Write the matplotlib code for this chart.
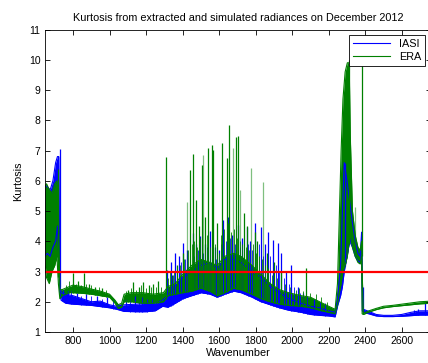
import numpy as np
import matplotlib
matplotlib.use("Agg")
import matplotlib.pyplot as plt

plt.rcParams['font.family'] = ['Liberation Sans', 'DejaVu Sans']

# IASI band (wavenumber, lower edge, upper edge)
iasi_wn = [645, 660, 675, 690, 705, 715, 722, 728, 735, 760, 800, 850, 900, 950,
           1000, 1040, 1080, 1150, 1200, 1250, 1290, 1320, 1360, 1400, 1450, 1500,
           1550, 1590, 1630, 1680, 1720, 1780, 1830, 1880, 1930, 1980, 2050, 2100,
           2150, 2200, 2235, 2250, 2265, 2275, 2285, 2300, 2315, 2330, 2345, 2360,
           2372, 2380, 2384, 2390, 2420, 2460, 2500, 2550, 2600, 2650, 2700, 2760]
iasi_lo = [3.5, 3.6, 3.5, 3.8, 4.0, 4.5, 3.5, 2.3, 2.05, 1.95, 1.92, 1.9, 1.88, 1.84,
           1.8, 1.75, 1.68, 1.67, 1.67, 1.7, 1.85, 1.82, 1.95, 2.1, 2.2, 2.3,
           2.25, 2.15, 2.25, 2.35, 2.3, 2.15, 2.0, 1.9, 1.8, 1.72, 1.65, 1.58,
           1.55, 1.53, 1.5, 1.9, 2.2, 2.5, 3.0, 3.5, 4.0, 3.8, 3.5, 3.35,
           3.3, 3.6, 1.7, 1.65, 1.6, 1.53, 1.51, 1.51, 1.52, 1.54, 1.56, 1.56]
iasi_hi = [5.85, 5.8, 5.7, 6.0, 6.6, 6.8, 6.8, 2.6, 2.3, 2.25, 2.2, 2.1, 2.0, 2.02,
           1.9, 1.85, 1.9, 1.92, 1.95, 1.95, 2.05, 2.2, 2.5, 2.8, 3.0, 3.2,
           3.3, 3.1, 3.4, 3.4, 3.3, 3.0, 2.8, 2.5, 2.3, 2.1, 1.95, 1.85,
           1.8, 1.7, 1.65, 2.2, 3.2, 5.0, 6.6, 6.0, 5.3, 4.6, 4.0, 3.6,
           3.5, 4.3, 2.5, 1.75, 1.68, 1.58, 1.55, 1.55, 1.58, 1.65, 1.7, 1.7]
iasi_spike_wn = [727, 745, 770, 820, 870, 930, 985, 1090, 1140, 1180, 1230, 1312,
                 1335, 1358, 1380, 1403, 1425, 1456, 1475, 1495, 1520, 1549, 1575,
                 1600, 1621, 1648, 1670, 1702, 1725, 1750, 1770, 1795, 1832, 1850,
                 1868, 1895, 1922, 1941, 1965, 1996, 2030, 2060, 2120, 2290, 2385,
                 2665, 2690, 2726]
iasi_spike_top = [7.04, 2.4, 2.35, 2.3, 2.25, 2.2, 2.15, 2.1, 2.2, 2.15, 2.1, 3.05,
                  3.3, 3.6, 3.5, 3.94, 3.7, 4.27, 3.9, 4.17, 3.9, 4.33, 3.8,
                  3.7, 4.7, 4.81, 4.2, 4.53, 4.1, 4.48, 4.0, 4.59, 4.48, 3.9,
                  4.31, 4.04, 3.93, 3.6, 3.0, 3.2, 2.5, 2.3, 2.1, 6.58, 2.5,
                  1.72, 1.75, 1.97]
iasi_small_wn = [760, 790, 845, 900, 960, 1020, 1110, 1160, 1205, 1255, 1280, 1320,
                 1345, 1370, 1390, 1415, 1440, 1465, 1485, 1510, 1535, 1560, 1585,
                 1610, 1635, 1660, 1685, 1712, 1738, 1760, 1782, 1808, 1820, 1842,
                 1880, 1910, 1930, 1955, 1980, 2010, 2045, 2080, 2150, 2180]
iasi_small_top = [2.3, 2.35, 2.2, 2.2, 2.1, 2.05, 2.05, 2.15, 2.1, 2.05, 2.2, 2.6,
                  2.9, 3.1, 3.3, 3.4, 3.6, 3.5, 3.7, 3.6, 3.8, 3.6, 3.4,
                  3.9, 4.0, 4.1, 3.9, 3.8, 3.7, 3.9, 3.7, 3.6, 3.9, 3.5,
                  3.5, 3.2, 3.0, 2.8, 2.6, 2.5, 2.3, 2.2, 2.0, 1.95]

# ERA band
era_wn = [645, 655, 670, 685, 700, 712, 720, 728, 740, 780, 800, 850, 900, 950,
          1000, 1030, 1048, 1066, 1080, 1120, 1180, 1240, 1295, 1320, 1360, 1400,
          1450, 1500, 1550, 1590, 1630, 1680, 1720, 1780, 1830, 1880, 1930, 1980,
          2050, 2100, 2150, 2200, 2235, 2248, 2258, 2268, 2278, 2290, 2302, 2312,
          2318, 2330, 2345, 2360, 2372, 2380, 2383, 2390, 2420, 2460, 2500, 2550,
          2600, 2650, 2700, 2760]
era_lo = [3.4, 2.8, 2.6, 3.0, 3.2, 3.5, 2.6, 2.1, 2.2, 2.3, 2.3, 2.28, 2.25, 2.2,
          2.15, 1.95, 1.78, 1.82, 2.0, 2.0, 1.95, 1.95, 2.0, 2.2, 2.25, 2.3,
          2.35, 2.45, 2.35, 2.2, 2.3, 2.45, 2.4, 2.25, 2.1, 2.0, 1.92, 1.88,
          1.85, 1.8, 1.72, 1.65, 1.6, 1.9, 2.3, 2.6, 3.0, 3.2, 3.5, 4.0,
          4.2, 3.8, 3.5, 3.3, 3.25, 3.5, 1.6, 1.58, 1.66, 1.74, 1.8, 1.84,
          1.87, 1.9, 1.93, 1.95]
era_hi = [5.8, 5.9, 5.7, 5.6, 5.9, 6.0, 5.0, 2.4, 2.4, 2.5, 2.55, 2.5, 2.42, 2.35,
          2.25, 2.05, 1.9, 1.95, 2.25, 2.3, 2.3, 2.25, 2.3, 2.5, 2.6, 2.9,
          3.2, 3.4, 3.3, 3.2, 3.5, 3.6, 3.5, 3.2, 2.9, 2.6, 2.4, 2.3,
          2.2, 2.15, 2.0, 1.85, 1.75, 2.6, 4.8, 7.0, 8.7, 9.6, 9.9, 9.9,
          7.5, 5.0, 4.2, 3.8, 3.7, 4.0, 3.0, 1.62, 1.7, 1.78, 1.85, 1.88,
          1.92, 1.96, 2.0, 2.02]
era_spike_wn = [718, 800, 830, 860, 885, 920, 960, 1100, 1130, 1160, 1186, 1215,
                1240, 1265, 1307, 1340, 1370, 1400, 1440, 1458, 1473, 1490, 1504,
                1525, 1540, 1559, 1567, 1590, 1617, 1641, 1655, 1690, 1704, 1735,
                1755, 1795, 1810, 1860, 1900, 1940, 2078, 2310, 2380]
era_spike_top = [6.4, 2.95, 2.7, 2.94, 2.6, 2.5, 2.45, 2.4, 2.66, 2.5, 2.66, 2.55,
                 2.6, 2.7, 6.78, 2.9, 3.2, 3.6, 6.36, 6.88, 5.36, 4.5, 6.52,
                 4.8, 7.07, 7.18, 7.02, 4.6, 7.24, 6.74, 7.84, 7.46, 7.48, 4.92,
                 4.5, 4.3, 4.0, 3.6, 3.3, 3.0, 3.12, 10.0, 10.3]
era_small_wn = [760, 780, 815, 845, 870, 900, 940, 980, 1090, 1115, 1145, 1170,
                1200, 1225, 1255, 1280, 1320, 1330, 1355, 1385, 1410, 1430, 1450,
                1465, 1480, 1497, 1520, 1532, 1550, 1575, 1600, 1610, 1625, 1648,
                1665, 1683, 1697, 1712, 1725, 1745, 1765, 1785, 1803, 1820, 1835,
                1850, 1870, 1890, 1915, 1960, 1990, 2020, 2040, 2060, 2100, 2130,
                2160, 2190]
era_small_top = [2.55, 2.7, 2.6, 2.55, 2.6, 2.55, 2.5, 2.4, 2.35, 2.45, 2.4, 2.55,
                 2.45, 2.5, 2.5, 2.5, 2.8, 3.0, 3.0, 3.2, 3.4, 3.7, 3.9,
                 4.0, 3.8, 4.1, 3.9, 4.2, 3.8, 3.9, 3.6, 4.2, 4.4, 4.6,
                 4.3, 4.4, 4.1, 4.0, 3.9, 3.8, 3.7, 3.9, 3.6, 3.5, 3.4,
                 3.2, 3.1, 2.9, 2.8, 2.6, 2.5, 2.4, 2.45, 2.35, 2.3, 2.25,
                 2.15, 2.0]
era_faint_wn = [1425, 1513, 1677, 1717, 1772, 1841, 2342]
era_faint_top = [5.31, 6.85, 7.07, 5.69, 6.41, 5.97, 5.14]

threshold = 3

blue = (0, 0, 1)
green = (0, 0.5, 0)

fig = plt.figure(figsize=(4.28, 3.63), dpi=100)
ax = fig.add_axes([0.1044, 0.0854, 0.9026, 0.8333])


def draw_series(wn, lo, hi, sp_wn, sp_top, sm_wn, sm_top, color, label):
    ax.fill_between(wn, lo, hi, color=color, linewidth=0)
    ax.plot(wn, hi, color=color, linewidth=0.8, label=label)
    ax.plot(wn, lo, color=color, linewidth=0.8)
    ax.vlines(sm_wn, np.interp(sm_wn, wn, lo), sm_top, color=color, linewidth=0.6)
    ax.vlines(sp_wn, np.interp(sp_wn, wn, lo), sp_top, color=color, linewidth=0.9)


draw_series(iasi_wn, iasi_lo, iasi_hi, iasi_spike_wn, iasi_spike_top,
            iasi_small_wn, iasi_small_top, blue, 'IASI')
draw_series(era_wn, era_lo, era_hi, era_spike_wn, era_spike_top,
            era_small_wn, era_small_top, green, 'ERA')
ax.vlines(era_faint_wn, np.interp(era_faint_wn, era_wn, era_lo), era_faint_top,
          color=green, linewidth=0.9, alpha=0.5)

ax.axhline(threshold, color=(1, 0, 0), linewidth=1.6)

ax.set_xlim(645, 2760)
ax.set_ylim(1, 11)
ax.set_xticks(np.arange(800, 2601, 200))
ax.set_yticks(np.arange(1, 12, 1))
ax.tick_params(direction='in', top=True, right=True, length=3.5, width=0.6,
               labelsize=7.5, pad=3)
for s in ax.spines.values():
    s.set_linewidth(0.6)

ax.set_title('Kurtosis from extracted and simulated radiances on December 2012',
             fontsize=7.8, pad=6)
ax.set_xlabel('Wavenumber', fontsize=7.8, labelpad=1)
ax.set_ylabel('Kurtosis', fontsize=7.8, labelpad=4)

leg = ax.legend(loc='upper right', bbox_to_anchor=(0.984, 0.982), borderaxespad=0,
                fancybox=False, edgecolor='black', framealpha=1, fontsize=7.8,
                handlelength=3.4, borderpad=0.35, labelspacing=0.3)
leg.get_frame().set_linewidth(0.6)

fig.savefig('out.png', dpi=100)
